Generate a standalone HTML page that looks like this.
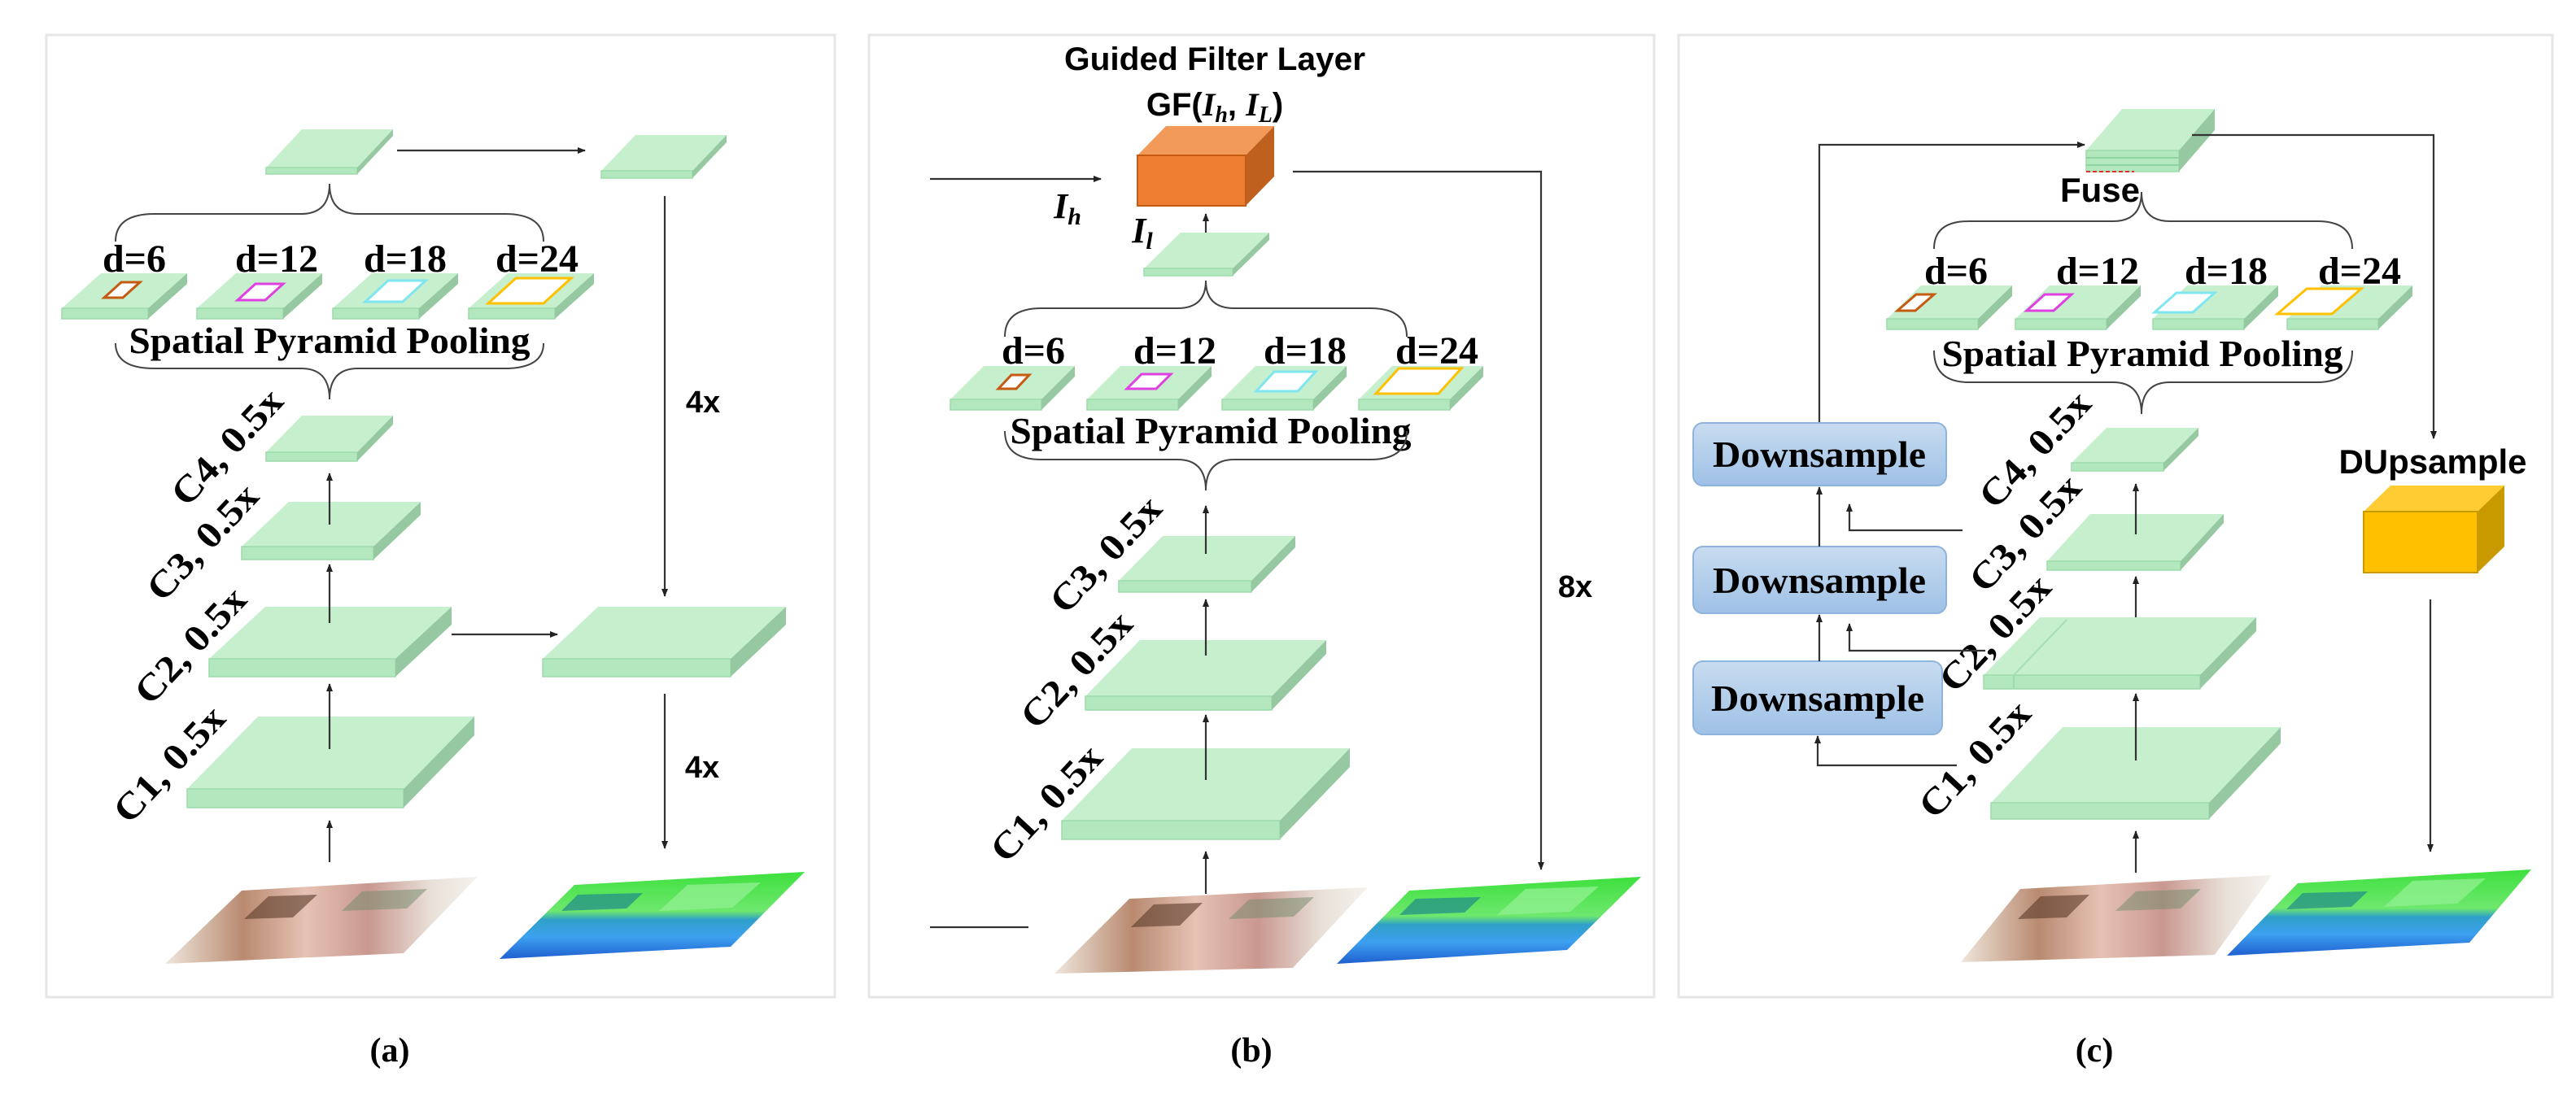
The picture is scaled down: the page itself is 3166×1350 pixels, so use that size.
<!DOCTYPE html>
<html><head><meta charset="utf-8"><style>
html,body{margin:0;padding:0;background:#fff}
svg{display:block}
.tp{fill:#c6efce}
.fr{fill:#b3e8bf;stroke:#9ddcab;stroke-width:1.5}
.sd{fill:#96c9a1}
.ln{stroke:#333;stroke-width:2.2;fill:none}
.br{stroke:#444;stroke-width:2;fill:none}
.dl{font-family:"Liberation Serif",serif;font-weight:bold;font-size:48px;text-anchor:middle}
.sp{font-family:"Liberation Serif",serif;font-weight:bold;font-size:46px;text-anchor:middle}
.cl{font-family:"Liberation Serif",serif;font-weight:bold;font-size:46px;text-anchor:middle}
.ss{font-family:"Liberation Sans",sans-serif;font-weight:bold;text-anchor:middle}
.pl{font-family:"Liberation Serif",serif;font-weight:bold;font-size:42px;text-anchor:middle}
</style></head><body>
<svg width="3166" height="1350" viewBox="0 0 3166 1350" xmlns="http://www.w3.org/2000/svg">
<defs>
<marker id="ah" markerWidth="10" markerHeight="10" refX="9" refY="5" orient="auto" markerUnits="userSpaceOnUse" viewBox="0 0 10 10">
<path d="M0,1 L10,5 L0,9 z" fill="#222"/></marker>
<linearGradient id="ph" x1="0" y1="0" x2="1" y2="0">
<stop offset="0" stop-color="#efe6dc"/><stop offset="0.25" stop-color="#b98a70"/><stop offset="0.45" stop-color="#e6c2b4"/><stop offset="0.65" stop-color="#c99890"/><stop offset="0.85" stop-color="#e8e0d8"/><stop offset="1" stop-color="#f6f2ee"/></linearGradient>
<linearGradient id="sg" x1="0" y1="0" x2="0" y2="1">
<stop offset="0" stop-color="#3ee03e"/><stop offset="0.45" stop-color="#6ee86e"/><stop offset="0.55" stop-color="#2fa0c8"/><stop offset="0.75" stop-color="#3da0f0"/><stop offset="1" stop-color="#1f5fd0"/></linearGradient>
<linearGradient id="ds" x1="0" y1="0" x2="0" y2="1">
<stop offset="0" stop-color="#c8dcf0"/><stop offset="1" stop-color="#9fc1e6"/></linearGradient>
</defs>

<rect x="57" y="43" width="969" height="1183" fill="none" stroke="#e6e6e6" stroke-width="3"/>
<rect x="1068" y="43" width="965" height="1183" fill="none" stroke="#e6e6e6" stroke-width="3"/>
<rect x="2063" y="43" width="1074" height="1183" fill="none" stroke="#e6e6e6" stroke-width="3"/>

<!-- PANEL A -->
<polygon class="tp" points="327,206 439,206 483,159 371,159"/><rect class="fr" x="327" y="206" width="112" height="8"/><polygon class="sd" points="439,206 483,159 483,167 439,214"/>
<polygon class="tp" points="739,210 851,210 893,166 781,166"/><rect class="fr" x="739" y="210" width="112" height="9"/><polygon class="sd" points="851,210 893,166 893,175 851,219"/>
<line class="ln" x1="488" y1="185" x2="719" y2="185" marker-end="url(#ah)"/>
<path class="br" d="M142,297 Q142,263 190,263 L370,263 Q405,263 405,226 Q405,263 440,263 L620,263 Q668,263 668,297"/>
<text class="dl" x="165" y="334">d=6</text><text class="dl" x="340" y="334">d=12</text><text class="dl" x="498" y="334">d=18</text><text class="dl" x="660" y="334">d=24</text>
<g>
<polygon class="tp" points="76,379 182,379 230,336 124,336"/><rect class="fr" x="76" y="379" width="106" height="13"/><polygon class="sd" points="182,379 230,336 230,349 182,392"/>
<polygon class="tp" points="242,379 348,379 396,336 290,336"/><rect class="fr" x="242" y="379" width="106" height="13"/><polygon class="sd" points="348,379 396,336 396,349 348,392"/>
<polygon class="tp" points="409,379 515,379 563,336 457,336"/><rect class="fr" x="409" y="379" width="106" height="13"/><polygon class="sd" points="515,379 563,336 563,349 515,392"/>
<polygon class="tp" points="576,379 682,379 730,336 624,336"/><rect class="fr" x="576" y="379" width="106" height="13"/><polygon class="sd" points="682,379 730,336 730,349 682,392"/>
<polygon points="128,366 151,366 172,347 149,347" fill="#fff" stroke="#c55a11" stroke-width="3"/>
<polygon points="292,369 326,369 348,349 314,349" fill="#fff" stroke="#e040e0" stroke-width="3"/>
<polygon points="449,371 495,371 523,345 477,345" fill="#fff" stroke="#7fe6f0" stroke-width="3"/>
<polygon points="600,373 668,373 702,342 634,342" fill="#fff" stroke="#ffc000" stroke-width="3"/>
</g>
<text class="sp" x="405" y="434" textLength="493" lengthAdjust="spacingAndGlyphs">Spatial Pyramid Pooling</text>
<path class="br" d="M142,422 Q142,453 190,453 L370,453 Q405,453 405,491 Q405,453 440,453 L620,453 Q668,453 668,422"/>
<polygon class="tp" points="327,556 439,556 483,511 371,511"/><rect class="fr" x="327" y="556" width="112" height="11"/><polygon class="sd" points="439,556 483,511 483,522 439,567"/>
<polygon class="tp" points="297,672 459,672 517,617 355,617"/><rect class="fr" x="297" y="672" width="162" height="16"/><polygon class="sd" points="459,672 517,617 517,633 459,688"/>
<polygon class="tp" points="257,810 486,810 555,746 326,746"/><rect class="fr" x="257" y="810" width="229" height="22"/><polygon class="sd" points="486,810 555,746 555,768 486,832"/>
<polygon class="tp" points="230,970 496,970 583,881 317,881"/><rect class="fr" x="230" y="970" width="266" height="23"/><polygon class="sd" points="496,970 583,881 583,904 496,993"/>
<polygon class="tp" points="667,810 898,810 966,746 735,746"/><rect class="fr" x="667" y="810" width="231" height="22"/><polygon class="sd" points="898,810 966,746 966,768 898,832"/>
<line class="ln" x1="405" y1="1060" x2="405" y2="1009" marker-end="url(#ah)"/>
<line class="ln" x1="405" y1="921" x2="405" y2="841" marker-end="url(#ah)"/>
<line class="ln" x1="405" y1="766" x2="405" y2="694" marker-end="url(#ah)"/>
<line class="ln" x1="405" y1="645" x2="405" y2="582" marker-end="url(#ah)"/>
<line class="ln" x1="817" y1="241" x2="817" y2="733" marker-end="url(#ah)"/>
<line class="ln" x1="817" y1="853" x2="817" y2="1043" marker-end="url(#ah)"/>
<line class="ln" x1="555" y1="780" x2="685" y2="780" marker-end="url(#ah)"/>
<text class="ss" x="864" y="507" font-size="38">4x</text>
<text class="ss" x="863" y="956" font-size="38">4x</text>
<text class="cl" transform="translate(290,560) rotate(-47)" textLength="177" lengthAdjust="spacingAndGlyphs">C4, 0.5x</text>
<text class="cl" transform="translate(260,677) rotate(-47)" textLength="177" lengthAdjust="spacingAndGlyphs">C3, 0.5x</text>
<text class="cl" transform="translate(245,804) rotate(-47)" textLength="177" lengthAdjust="spacingAndGlyphs">C2, 0.5x</text>
<text class="cl" transform="translate(219,950) rotate(-47)" textLength="177" lengthAdjust="spacingAndGlyphs">C1, 0.5x</text>
<polygon points="203,1185 496,1172 587,1078 297,1095" fill="url(#ph)"/>
<polygon points="300,1130 360,1128 390,1100 330,1102" fill="#5a3a2a" opacity="0.6"/>
<polygon points="420,1120 500,1117 525,1093 445,1096" fill="#6f8a6a" opacity="0.5"/>
<polygon points="614,1179 898,1164 989,1072 706,1088" fill="url(#sg)"/>
<polygon points="690,1120 770,1117 790,1098 710,1100" fill="#1f8a8a" opacity="0.7"/>
<polygon points="810,1120 900,1116 935,1085 845,1088" fill="#8ef08e" opacity="0.8"/>
<text class="pl" x="479" y="1305">(a)</text>

<!-- PANEL B -->
<text class="ss" x="1493" y="86" font-size="40" textLength="370" lengthAdjust="spacingAndGlyphs">Guided Filter Layer</text>
<text x="1493" y="142" text-anchor="middle" font-family="Liberation Sans,sans-serif" font-weight="bold" font-size="40">GF(<tspan font-family="Liberation Serif,serif" font-style="italic">I</tspan><tspan font-family="Liberation Serif,serif" font-style="italic" font-size="28" dy="8">h</tspan><tspan dy="-8">, </tspan><tspan font-family="Liberation Serif,serif" font-style="italic">I</tspan><tspan font-family="Liberation Serif,serif" font-style="italic" font-size="28" dy="8">L</tspan><tspan dy="-8">)</tspan></text>
<polygon points="1398,191 1531,191 1566,155 1433,155" fill="#f19a5a"/>
<rect x="1398" y="191" width="133" height="62" fill="#ed7d31" stroke="#c55a11" stroke-width="2"/>
<polygon points="1531,191 1566,155 1566,217 1531,253" fill="#c0601e"/>
<line class="ln" x1="1143" y1="220" x2="1353" y2="220" marker-end="url(#ah)"/>
<text x="1312" y="268" text-anchor="middle" font-family="Liberation Serif,serif" font-style="italic" font-weight="bold" font-size="44">I<tspan font-size="30" dy="8">h</tspan></text>
<text x="1404" y="298" text-anchor="middle" font-family="Liberation Serif,serif" font-style="italic" font-weight="bold" font-size="44">I<tspan font-size="30" dy="8">l</tspan></text>
<polyline class="ln" points="1589,211 1894,211 1894,1069" marker-end="url(#ah)"/>
<text class="ss" x="1936" y="734" font-size="38">8x</text>
<line class="ln" x1="1482" y1="297" x2="1482" y2="263" marker-end="url(#ah)"/>
<polygon class="tp" points="1406,330 1515,330 1560,286 1451,286"/><rect class="fr" x="1406" y="330" width="109" height="9"/><polygon class="sd" points="1515,330 1560,286 1560,295 1515,339"/>
<path class="br" d="M1235,414 Q1235,379 1280,379 L1447,379 Q1482,379 1482,345 Q1482,379 1517,379 L1684,379 Q1729,379 1729,414"/>
<text class="dl" x="1270" y="447">d=6</text><text class="dl" x="1444" y="447">d=12</text><text class="dl" x="1604" y="447">d=18</text><text class="dl" x="1766" y="447">d=24</text>
<polygon class="tp" points="1168,491 1280,491 1321,450 1209,450"/><rect class="fr" x="1168" y="491" width="112" height="13"/><polygon class="sd" points="1280,491 1321,450 1321,463 1280,504"/>
<polygon class="tp" points="1336,491 1448,491 1489,450 1377,450"/><rect class="fr" x="1336" y="491" width="112" height="13"/><polygon class="sd" points="1448,491 1489,450 1489,463 1448,504"/>
<polygon class="tp" points="1502,491 1614,491 1655,450 1543,450"/><rect class="fr" x="1502" y="491" width="112" height="13"/><polygon class="sd" points="1614,491 1655,450 1655,463 1614,504"/>
<polygon class="tp" points="1670,491 1782,491 1823,450 1711,450"/><rect class="fr" x="1670" y="491" width="112" height="13"/><polygon class="sd" points="1782,491 1823,450 1823,463 1782,504"/>
<polygon points="1227,478 1249,478 1265,461 1243,461" fill="#fff" stroke="#c55a11" stroke-width="3"/>
<polygon points="1385,478 1421,478 1439,460 1403,460" fill="#fff" stroke="#e040e0" stroke-width="3"/>
<polygon points="1544,481 1595,481 1617,457 1566,457" fill="#fff" stroke="#7fe6f0" stroke-width="3"/>
<polygon points="1691,484 1768,484 1796,453 1719,453" fill="#fff" stroke="#ffc000" stroke-width="3"/>
<text class="sp" x="1488" y="545" textLength="493" lengthAdjust="spacingAndGlyphs">Spatial Pyramid Pooling</text>
<path class="br" d="M1235,530 Q1235,565 1280,565 L1447,565 Q1482,565 1482,603 Q1482,565 1517,565 L1684,565 Q1729,565 1729,530"/>
<polygon class="tp" points="1375,714 1538,714 1592,659 1429,659"/><rect class="fr" x="1375" y="714" width="163" height="14"/><polygon class="sd" points="1538,714 1592,659 1592,673 1538,728"/>
<polygon class="tp" points="1334,856 1563,856 1630,787 1401,787"/><rect class="fr" x="1334" y="856" width="229" height="17"/><polygon class="sd" points="1563,856 1630,787 1630,804 1563,873"/>
<polygon class="tp" points="1305,1009 1573,1009 1659,920 1391,920"/><rect class="fr" x="1305" y="1009" width="268" height="23"/><polygon class="sd" points="1573,1009 1659,920 1659,943 1573,1032"/>
<line class="ln" x1="1482" y1="681" x2="1482" y2="622" marker-end="url(#ah)" stroke="#777"/>
<line class="ln" x1="1482" y1="806" x2="1482" y2="737" marker-end="url(#ah)" stroke="#777"/>
<line class="ln" x1="1482" y1="959" x2="1482" y2="879" marker-end="url(#ah)" stroke="#777"/>
<line class="ln" x1="1482" y1="1099" x2="1482" y2="1047" marker-end="url(#ah)" stroke="#777"/>
<text class="cl" transform="translate(1370,692) rotate(-47)" textLength="177" lengthAdjust="spacingAndGlyphs">C3, 0.5x</text>
<text class="cl" transform="translate(1334,834) rotate(-47)" textLength="177" lengthAdjust="spacingAndGlyphs">C2, 0.5x</text>
<text class="cl" transform="translate(1297,998) rotate(-47)" textLength="177" lengthAdjust="spacingAndGlyphs">C1, 0.5x</text>
<line class="ln" x1="1143" y1="1140" x2="1264" y2="1140"/>
<polygon points="1296,1197 1589,1190 1681,1091 1388,1105" fill="url(#ph)"/>
<polygon points="1390,1140 1450,1138 1478,1110 1418,1112" fill="#5a3a2a" opacity="0.6"/>
<polygon points="1510,1130 1590,1127 1615,1103 1535,1106" fill="#6f8a6a" opacity="0.5"/>
<polygon points="1643,1185 1926,1168 2017,1078 1732,1095" fill="url(#sg)"/>
<polygon points="1720,1125 1800,1122 1820,1103 1740,1105" fill="#1f8a8a" opacity="0.7"/>
<polygon points="1840,1125 1930,1121 1965,1090 1875,1093" fill="#8ef08e" opacity="0.8"/>
<text class="pl" x="1538" y="1305">(b)</text>

<!-- PANEL C -->
<polygon class="tp" points="2564,185 2678,185 2722,134 2608,134"/>
<rect class="fr" x="2564" y="185" width="114" height="26"/>
<line x1="2564" y1="194" x2="2678" y2="194" stroke="#8fd49f" stroke-width="2"/>
<line x1="2564" y1="203" x2="2678" y2="203" stroke="#8fd49f" stroke-width="2"/>
<polygon class="sd" points="2678,185 2722,134 2722,160 2678,211"/>
<line x1="2564" y1="211" x2="2623" y2="211" stroke="#e03030" stroke-width="2" stroke-dasharray="5,3"/>
<polyline class="ln" points="2236,520 2236,178 2562,178" marker-end="url(#ah)" stroke="#555"/>
<polyline class="ln" points="2694,166 2991,166 2991,539" marker-end="url(#ah)" stroke="#555"/>
<text class="ss" x="2581" y="248" font-size="42">Fuse</text>
<path class="br" d="M2377,306 Q2377,272 2420,272 L2597,272 Q2632,272 2632,236 Q2632,272 2667,272 L2848,272 Q2891,272 2891,306"/>
<text class="dl" x="2404" y="349">d=6</text><text class="dl" x="2578" y="349">d=12</text><text class="dl" x="2736" y="349">d=18</text><text class="dl" x="2900" y="349">d=24</text>
<polygon class="tp" points="2319,392 2431,392 2473,351 2361,351"/><rect class="fr" x="2319" y="392" width="112" height="13"/><polygon class="sd" points="2431,392 2473,351 2473,364 2431,405"/>
<polygon class="tp" points="2477,392 2589,392 2631,351 2519,351"/><rect class="fr" x="2477" y="392" width="112" height="13"/><polygon class="sd" points="2589,392 2631,351 2631,364 2589,405"/>
<polygon class="tp" points="2646,392 2758,392 2800,351 2688,351"/><rect class="fr" x="2646" y="392" width="112" height="13"/><polygon class="sd" points="2758,392 2800,351 2800,364 2758,405"/>
<polygon class="tp" points="2811,392 2923,392 2965,351 2853,351"/><rect class="fr" x="2811" y="392" width="112" height="13"/><polygon class="sd" points="2923,392 2965,351 2965,364 2923,405"/>
<polygon points="2332,382 2354,382 2377,362 2355,362" fill="#fff" stroke="#c55a11" stroke-width="3"/>
<polygon points="2491,382 2524,382 2546,362 2513,362" fill="#fff" stroke="#e040e0" stroke-width="3"/>
<polygon points="2648,384 2695,384 2722,360 2675,360" fill="#fff" stroke="#7fe6f0" stroke-width="3"/>
<polygon points="2799,386 2866,386 2902,355 2835,355" fill="#fff" stroke="#ffc000" stroke-width="3"/>
<text class="sp" x="2633" y="450" textLength="493" lengthAdjust="spacingAndGlyphs">Spatial Pyramid Pooling</text>
<path class="br" d="M2377,431 Q2377,470 2420,470 L2597,470 Q2632,470 2632,509 Q2632,470 2667,470 L2848,470 Q2891,470 2891,431"/>
<polygon class="tp" points="2546,569 2659,569 2702,526 2589,526"/><rect class="fr" x="2546" y="569" width="113" height="10"/><polygon class="sd" points="2659,569 2702,526 2702,536 2659,579"/>
<polygon class="tp" points="2516,690 2680,690 2733,632 2569,632"/><rect class="fr" x="2516" y="690" width="164" height="11"/><polygon class="sd" points="2680,690 2733,632 2733,643 2680,701"/>
<polygon class="tp" points="2438,830 2704,830 2773,759 2507,759"/><rect class="fr" x="2438" y="830" width="266" height="17"/><polygon class="sd" points="2704,830 2773,759 2773,776 2704,847"/>
<line x1="2475" y1="830" x2="2475" y2="847" stroke="#9ddcab" stroke-width="2"/><line x1="2475" y1="830" x2="2540" y2="762" stroke="#a8deb4" stroke-width="2"/>
<polygon class="tp" points="2447,987 2715,987 2803,894 2535,894"/><rect class="fr" x="2447" y="987" width="268" height="20"/><polygon class="sd" points="2715,987 2803,894 2803,914 2715,1007"/>
<line class="ln" x1="2625" y1="1073" x2="2625" y2="1022" marker-end="url(#ah)" stroke="#666"/>
<line class="ln" x1="2625" y1="935" x2="2625" y2="853" marker-end="url(#ah)" stroke="#666"/>
<line class="ln" x1="2625" y1="759" x2="2625" y2="709" marker-end="url(#ah)" stroke="#666"/>
<line class="ln" x1="2625" y1="657" x2="2625" y2="595" marker-end="url(#ah)" stroke="#666"/>
<text class="cl" transform="translate(2512,563) rotate(-47)" textLength="177" lengthAdjust="spacingAndGlyphs">C4, 0.5x</text>
<text class="cl" transform="translate(2500,666) rotate(-47)" textLength="177" lengthAdjust="spacingAndGlyphs">C3, 0.5x</text>
<text class="cl" transform="translate(2463,789) rotate(-47)" textLength="177" lengthAdjust="spacingAndGlyphs">C2, 0.5x</text>
<text class="cl" transform="translate(2438,944) rotate(-47)" textLength="177" lengthAdjust="spacingAndGlyphs">C1, 0.5x</text>
<rect x="2081" y="520" width="311" height="77" rx="12" fill="url(#ds)" stroke="#8fb4dc" stroke-width="2"/>
<rect x="2081" y="672" width="311" height="82" rx="12" fill="url(#ds)" stroke="#8fb4dc" stroke-width="2"/>
<rect x="2081" y="813" width="306" height="90" rx="12" fill="url(#ds)" stroke="#8fb4dc" stroke-width="2"/>
<text class="cl" x="2236" y="574" font-size="48" textLength="262" lengthAdjust="spacingAndGlyphs">Downsample</text>
<text class="cl" x="2236" y="729" font-size="48" textLength="262" lengthAdjust="spacingAndGlyphs">Downsample</text>
<text class="cl" x="2234" y="874" font-size="48" textLength="262" lengthAdjust="spacingAndGlyphs">Downsample</text>
<line class="ln" x1="2236" y1="672" x2="2236" y2="599" marker-end="url(#ah)"/>
<line class="ln" x1="2236" y1="813" x2="2236" y2="756" marker-end="url(#ah)"/>
<polyline class="ln" points="2412,652 2273,652 2273,620" marker-end="url(#ah)" stroke="#555"/>
<polyline class="ln" points="2440,800 2273,800 2273,767" marker-end="url(#ah)" stroke="#555"/>
<polyline class="ln" points="2405,941 2234,941 2234,905" marker-end="url(#ah)" stroke="#555"/>
<text class="ss" x="2990" y="582" font-size="42">DUpsample</text>
<polygon points="2905,629 3045,629 3078,597 2938,597" fill="#ffcd33"/>
<rect x="2905" y="629" width="140" height="75" fill="#ffc000" stroke="#c99a00" stroke-width="2"/>
<polygon points="3045,629 3078,597 3078,672 3045,704" fill="#c99a00"/>
<line class="ln" x1="2987" y1="737" x2="2987" y2="1047" marker-end="url(#ah)" stroke="#555"/>
<polygon points="2410,1183 2722,1174 2792,1076 2483,1093" fill="url(#ph)"/>
<polygon points="2480,1130 2540,1128 2568,1100 2508,1102" fill="#5a3a2a" opacity="0.6"/>
<polygon points="2600,1120 2680,1117 2705,1093 2625,1096" fill="#6f8a6a" opacity="0.5"/>
<polygon points="2737,1175 3035,1159 3111,1069 2824,1086" fill="url(#sg)"/>
<polygon points="2810,1118 2890,1115 2910,1096 2830,1098" fill="#1f8a8a" opacity="0.7"/>
<polygon points="2930,1115 3020,1111 3055,1080 2965,1083" fill="#8ef08e" opacity="0.8"/>
<text class="pl" x="2574" y="1305">(c)</text>
</svg>
</body></html>
